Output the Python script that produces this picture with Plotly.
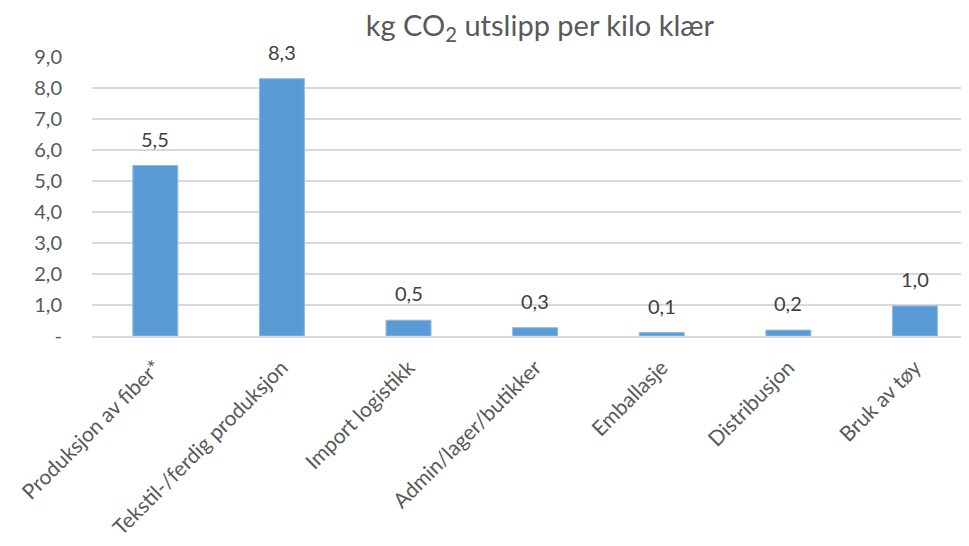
import plotly.graph_objects as go

categories = ["Produksjon av fiber*", "Tekstil-/ferdig produksjon", "Import logistikk",
              "Admin/lager/butikker", "Emballasje", "Distribusjon", "Bruk av tøy"]
values = [5.5, 8.3, 0.51, 0.27, 0.11, 0.19, 0.97]
y_tickvals = [0, 1, 2, 3, 4, 5, 6, 7, 8, 9]
y_ticktext = ["-", "1,0", "2,0", "3,0", "4,0", "5,0", "6,0", "7,0", "8,0", "9,0"]

labels = [f"{v:.1f}".replace(".", ",") for v in values]

fig = go.Figure(go.Bar(
    x=categories, y=values,
    marker=dict(color="#5B9BD5", line=dict(color="#8DB9E6", width=1)),
    width=0.355,
))

for c, v, t in zip(categories, values, labels):
    fig.add_annotation(x=c, y=v, text=t, showarrow=False, yanchor="bottom",
                       yshift=14, borderpad=0,
                       font=dict(size=20, color="#404040", family="Lato"))

fig.update_layout(
    width=969, height=546,
    margin=dict(l=84, r=0, t=49, b=218),
    paper_bgcolor="white", plot_bgcolor="white",
    font=dict(family="Lato", color="#595959"),
    title=dict(text="kg CO<sub>2</sub> utslipp per kilo klær", x=532 / 969,
               xanchor="center", y=0.968, yanchor="middle",
               font=dict(size=29, color="#595959", family="Lato")),
    showlegend=False,
)
fig.update_xaxes(range=[-0.5, 6.49], tickangle=-45, tickfont=dict(size=21, color="#595959"),
                 showline=True, linecolor="#D9D9D9", linewidth=2, ticks="", showgrid=False,
                 ticklabelstandoff=9)
fig.update_yaxes(range=[0, 9], tickvals=y_tickvals, ticktext=y_ticktext,
                 tickfont=dict(size=20, color="#595959"), showgrid=True, gridcolor="#D9D9D9",
                 gridwidth=1.5, zeroline=False, ticks="", ticklabelstandoff=29)

fig.write_html("out.html")
